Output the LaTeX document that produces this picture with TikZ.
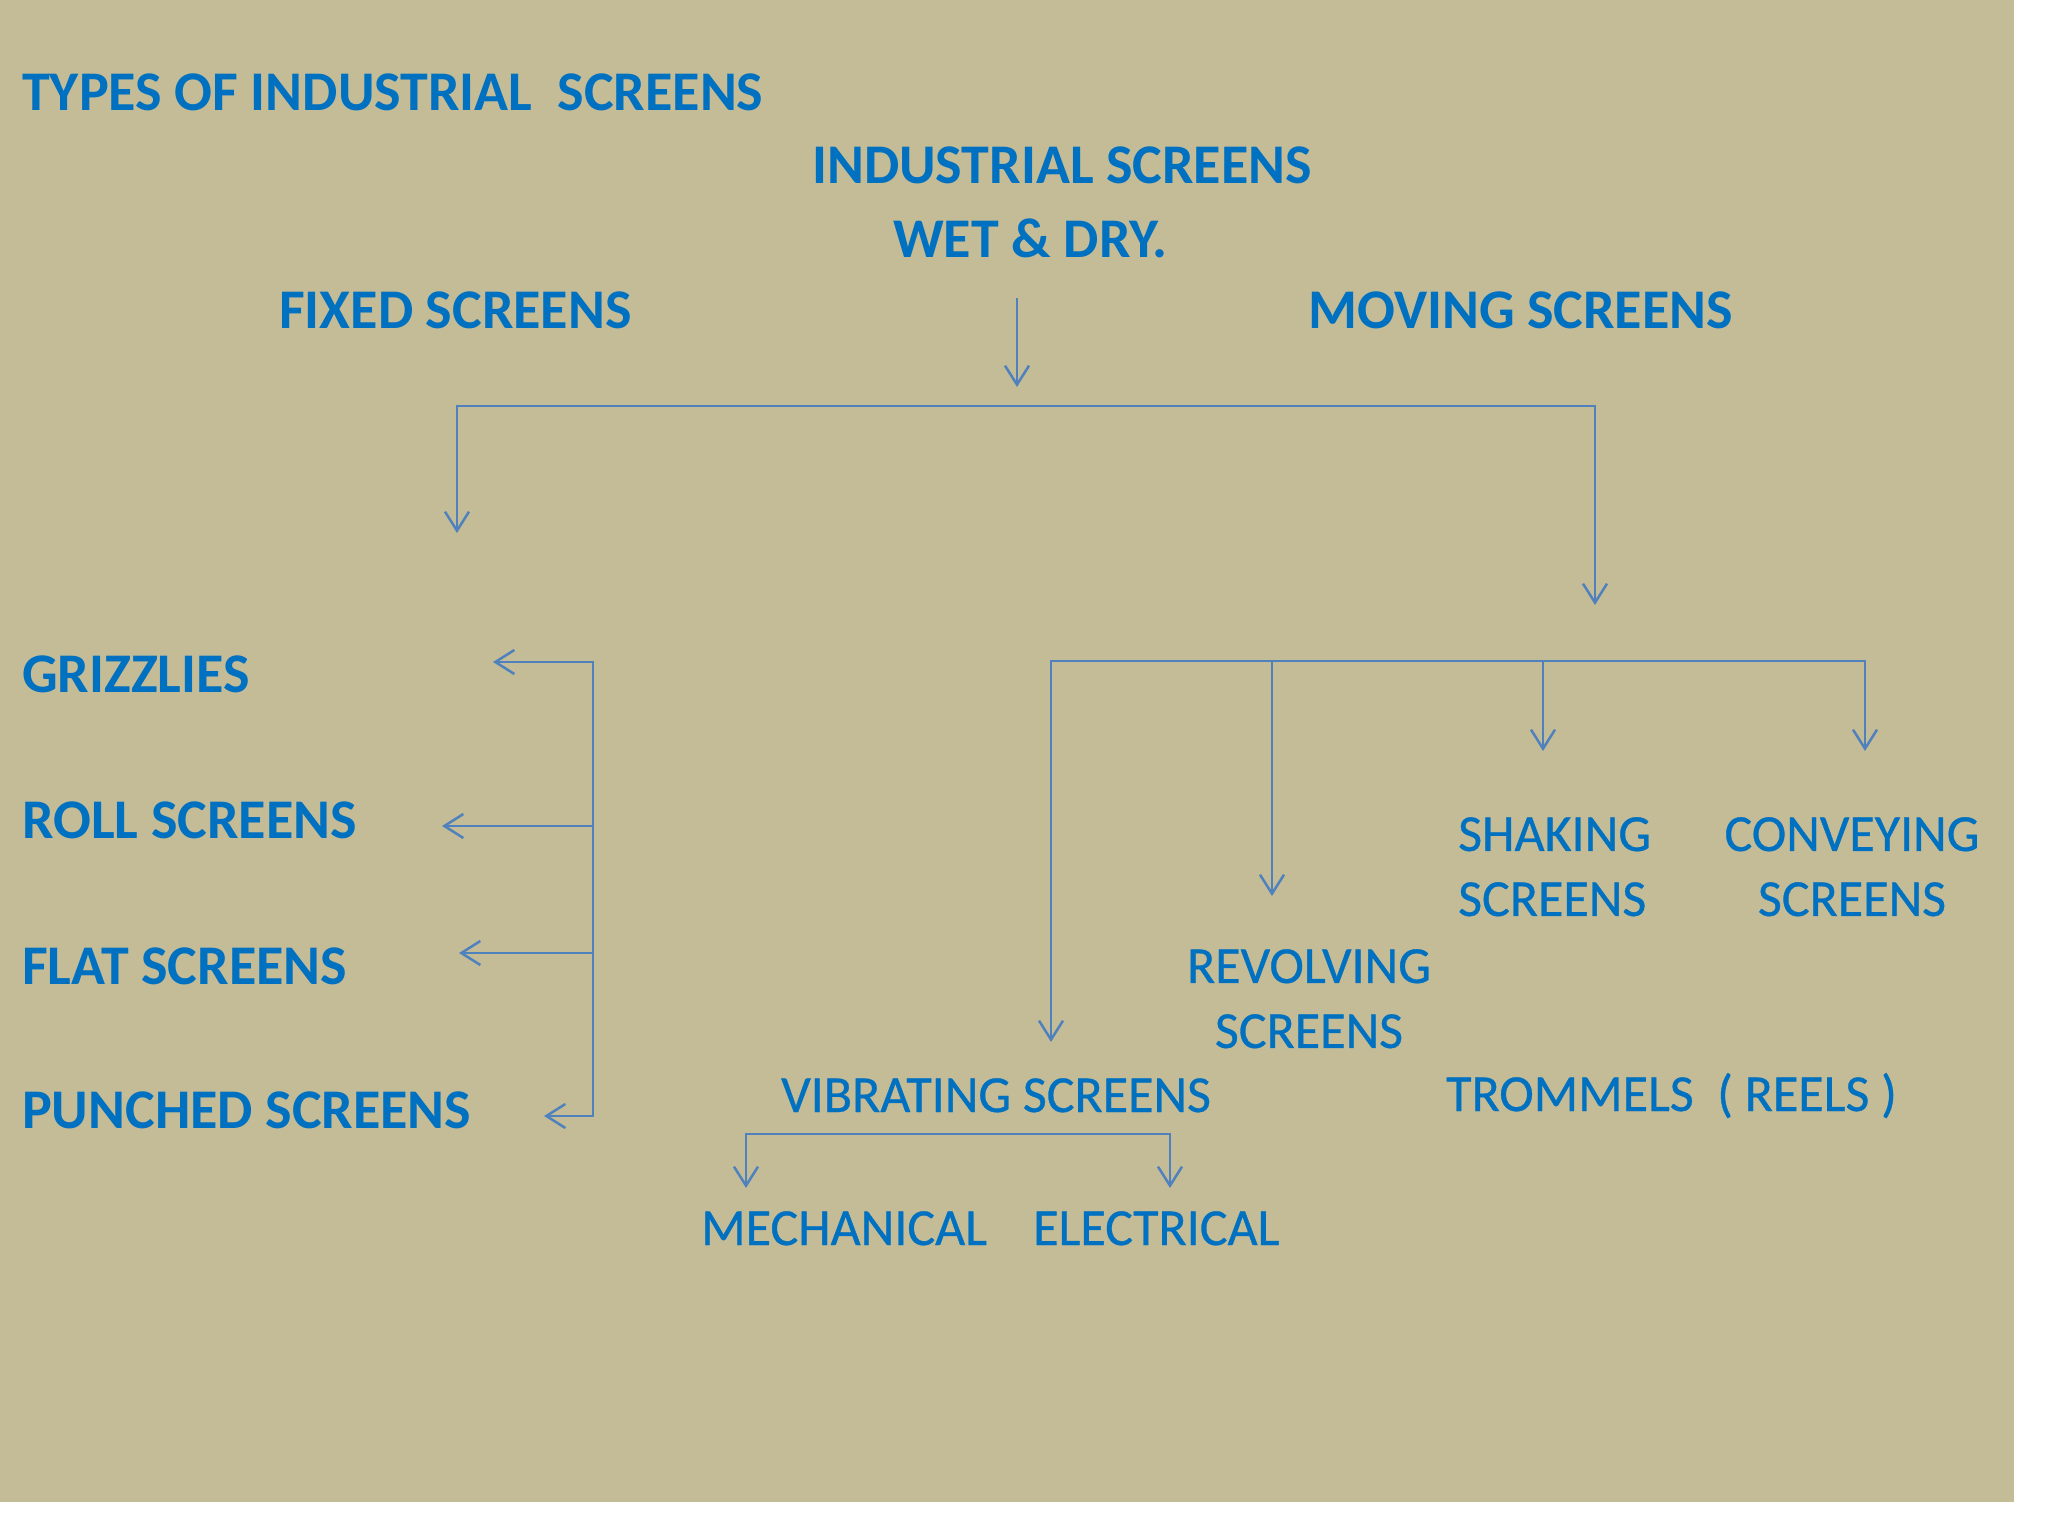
\documentclass[tikz,border=0pt]{standalone}
\usepackage{fontspec}
\setmainfont{Carlito}
\newfontfamily\medfont[FakeBold=0.6]{Carlito}
\usetikzlibrary{arrows.meta}
\definecolor{bg}{HTML}{C4BC97}
\definecolor{txt}{HTML}{0070C0}
\definecolor{ln}{HTML}{4F81BD}
\begin{document}
\begin{tikzpicture}[x=1pt,y=-1pt,
  lbl/.style={inner sep=0pt, text=txt, font=\fontsize{56}{66}\selectfont\bfseries, anchor=base west},
  lblr/.style={inner sep=0pt, text=txt, font=\medfont\fontsize{52}{65}\selectfont, anchor=base west},
  conn/.style={draw=ln, line width=2.5pt},
  arr/.style={conn, -{Straight Barb[length=19pt,width=24pt,line width=2.5pt]}}]
\useasboundingbox (0,0) rectangle (2048,1536);
\fill[white] (0,0) rectangle (2048,1536);
\fill[bg] (0,0) rectangle (2014,1502);

% labels
\node[lbl] (title) at (22,111) {TYPES OF INDUSTRIAL\ \ SCREENS};
\node[lbl] (ind) at (812,183) {INDUSTRIAL SCREENS};
\node[lbl] (wet) at (893,257) {WET \& DRY.};
\node[lbl] (fixed) at (279,328) {FIXED SCREENS};
\node[lbl] (moving) at (1308,328) {MOVING SCREENS};
\node[lbl] (grz) at (22,692) {GRIZZLIES};
\node[lbl] (roll) at (22,838) {ROLL SCREENS};
\node[lbl] (flat) at (22,984) {FLAT SCREENS};
\node[lbl] (punch) at (22,1128) {PUNCHED SCREENS};
\node[lblr, anchor=north west, align=left] (shak) at (1458,817) {SHAKING\\SCREENS};
\node[lblr, anchor=north, align=center] (conv) at (1852,817) {CONVEYING\\SCREENS};
\node[lblr, anchor=north, align=center] (rev) at (1309,949) {REVOLVING\\SCREENS};
\node[lblr] (vib) at (781,1112) {VIBRATING SCREENS};
\node[lblr] (trom) at (1446,1111) {TROMMELS\ \ ( REELS )};
\node[lblr] (mech) at (701,1245) {MECHANICAL};
\node[lblr] (elec) at (1033,1245) {ELECTRICAL};

% coordinates
\coordinate (a0) at (1017,298);
\coordinate (a1) at (1017,387);
\coordinate (hL) at (457,406);
\coordinate (hR) at (1595,406);
\coordinate (fixTip) at (457,533);
\coordinate (movTip) at (1595,605);
\coordinate (fj1) at (593,662);
\coordinate (fj2) at (593,826);
\coordinate (fj3) at (593,953);
\coordinate (fj4) at (593,1116);
\coordinate (grzTip) at (493,662);
\coordinate (rollTip) at (442,826);
\coordinate (flatTip) at (459,953);
\coordinate (punchTip) at (544,1116);
\coordinate (mL) at (1051,661);
\coordinate (mR) at (1865,661);
\coordinate (revJ) at (1272,661);
\coordinate (shakJ) at (1543,661);
\coordinate (vibTip) at (1051,1042);
\coordinate (revTip) at (1272,896);
\coordinate (shakTip) at (1543,751);
\coordinate (convTip) at (1865,751);
\coordinate (vL) at (746,1134);
\coordinate (vR) at (1170,1134);
\coordinate (mechTip) at (746,1188);
\coordinate (elecTip) at (1170,1188);

% connectors
\draw[arr] (a0) -- (a1);
\draw[arr] (hR) -- (hL) -- (fixTip);
\draw[arr] (hL) -- (hR) -- (movTip);
\draw[arr] (fj4) -- (fj1) -- (grzTip);
\draw[arr] (fj1) -- (fj4) -- (punchTip);
\draw[arr] (fj2) -- (rollTip);
\draw[arr] (fj3) -- (flatTip);
\draw[arr] (mR) -- (mL) -- (vibTip);
\draw[arr] (mL) -- (mR) -- (convTip);
\draw[arr] (revJ) -- (revTip);
\draw[arr] (shakJ) -- (shakTip);
\draw[arr] (vR) -- (vL) -- (mechTip);
\draw[arr] (vL) -- (vR) -- (elecTip);
\end{tikzpicture}
\end{document}
